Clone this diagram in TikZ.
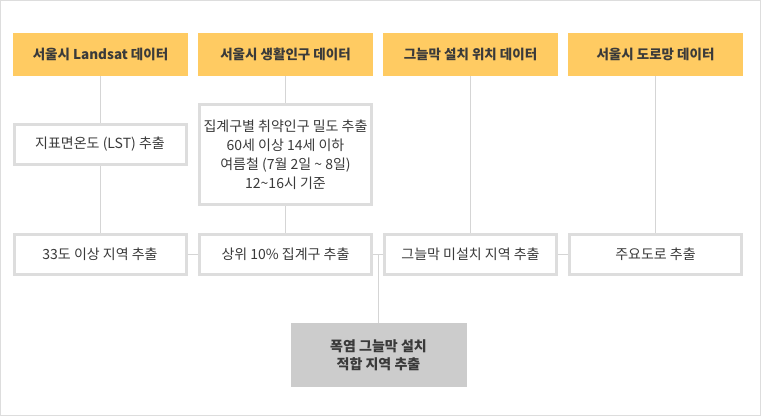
\documentclass[tikz,border=0pt]{standalone}
\usepackage{fontspec}
\setmainfont{Noto Sans CJK KR}
\definecolor{hdr}{HTML}{FFCB62}
\definecolor{bord}{HTML}{DDDDDD}
\definecolor{conn}{HTML}{D5D5D5}
\definecolor{txt}{HTML}{3A3A3A}
\definecolor{resfill}{HTML}{CCCCCC}
\begin{document}
\begin{tikzpicture}[x=1pt,y=-1pt,
  hdrbox/.style={fill=hdr,draw=none,minimum width=175pt,minimum height=43pt,inner sep=0pt,
    font=\fontsize{13.5}{16}\selectfont\bfseries,text=txt},
  procbox/.style={fill=white,draw=bord,line width=3pt,minimum width=172pt,minimum height=40pt,inner sep=0pt,
    font=\fontsize{14}{19}\selectfont,text=txt,align=center},
  resbox/.style={fill=resfill,draw=none,minimum width=176pt,minimum height=64pt,inner sep=0pt,
    font=\fontsize{14}{18}\selectfont\bfseries,text=txt,align=center},
  link/.style={draw=conn,line width=1pt}]
\useasboundingbox (0,0) rectangle (761,416);
\draw[draw=bord,line width=1pt] (0.5,0.5) rectangle (760.5,415.5);
% headers
\node[hdrbox] (h1) at (100.5,54.5) {서울시 Landsat 데이터};
\node[hdrbox] (h2) at (285.5,54.5) {서울시 생활인구 데이터};
\node[hdrbox] (h3) at (470.5,54.5) {그늘막 설치 위치 데이터};
\node[hdrbox] (h4) at (655.5,54.5) {서울시 도로망 데이터};
% middle
\node[procbox] (m1) at (100,144.5) {지표면온도 (LST) 추출};
\node[procbox,minimum height=100pt] (m2) at (285.5,154.5) {집계구별 취약인구 밀도 추출\\60세 이상 14세 이하\\여름철 (7월 2일 \textasciitilde{} 8일)\\12\textasciitilde16시 기준};
% bottom
\node[procbox] (b1) at (100,254.5) {33도 이상 지역 추출};
\node[procbox] (b2) at (285.5,254.5) {상위 10\% 집계구 추출};
\node[procbox] (b3) at (470.5,254.5) {그늘막 미설치 지역 추출};
\node[procbox] (b4) at (655.5,254.5) {주요도로 추출};
% result
\node[resbox] (r) at (378.5,355) {폭염 그늘막 설치\\적합 지역 추출};
% connectors
\draw[link] (h1.south -| m1.north) -- (m1.north);
\draw[link] (m1.south) -- (b1.north);
\draw[link] (h2.south) -- (m2.north);
\draw[link] (m2.south) -- (b2.north);
\draw[link] (h3.south) -- (b3.north);
\draw[link] (h4.south) -- (b4.north);
\draw[link] (b1.east) -- (b2.west);
\draw[link] (b2.east) -- (b3.west);
\draw[link] (b3.east) -- (b4.west);
\draw[link] (r.north |- b2.east) -- (r.north);
\end{tikzpicture}
\end{document}
